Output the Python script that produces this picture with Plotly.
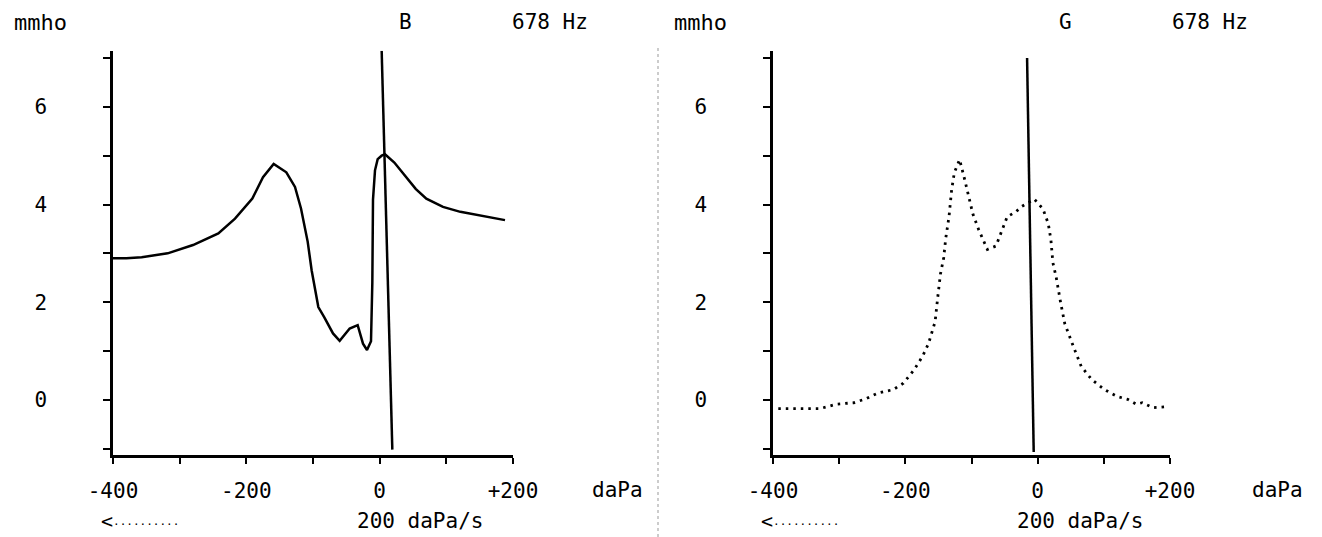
import plotly.graph_objects as go

# ---- data ----
# Left panel: susceptance B at 678 Hz (mmho) vs pressure (daPa)
B_pressure = [-400, -380, -357, -318, -280, -242, -217, -191, -175, -159, -140, -127,
              -118, -113, -108, -102, -92, -83, -70, -60, -45, -33, -25, -19, -13,
              -11, -10, -7, -3, 3, 8, 22, 38, 54, 70, 95, 121, 153, 188]
B_mmho = [2.90, 2.90, 2.92, 3.00, 3.17, 3.41, 3.71, 4.12, 4.56, 4.83, 4.66, 4.36,
          3.92, 3.60, 3.24, 2.65, 1.90, 1.69, 1.36, 1.21, 1.46, 1.53, 1.15, 1.02, 1.20,
          2.40, 4.10, 4.70, 4.93, 5.00, 5.03, 4.86, 4.59, 4.32, 4.12, 3.95, 3.85, 3.77, 3.68]
B_marker_pressure = [3, 19]
B_marker_mmho = [7.15, -1.02]

# Right panel: conductance G at 678 Hz (mmho) vs pressure (daPa)
G_pressure = [-392, -329, -304, -278, -260, -241, -218, -203, -187, -174, -165, -155,
              -151, -147, -142, -139, -134, -130, -126, -118, -111, -104, -98, -89, -76,
              -63, -54, -46, -33, -24, -5, 8, 16, 20, 23, 28, 35, 41, 54, 66, 82, 101,
              120, 136, 149, 158, 174, 196]
G_mmho = [-0.18, -0.18, -0.09, -0.06, 0.02, 0.14, 0.21, 0.34, 0.61, 0.89, 1.15, 1.60,
          2.10, 2.57, 2.91, 3.30, 3.75, 4.30, 4.65, 4.92, 4.55, 4.15, 3.81, 3.48, 3.08,
          3.15, 3.48, 3.75, 3.85, 3.96, 4.11, 3.91, 3.61, 3.28, 2.81, 2.51, 1.97, 1.56,
          1.09, 0.68, 0.41, 0.21, 0.07, 0.01, -0.09, -0.06, -0.16, -0.14]
G_marker_pressure = [-16, -6]
G_marker_mmho = [7.0, -1.07]

x_tickvals = [-400, -300, -200, -100, 0, 100, 200]
x_ticktext = ["-400", "", "-200", "", "0", "", "+200"]
y_tickvals = [-1, 0, 1, 2, 3, 4, 5, 6, 7]
y_ticktext = ["", "0", "", "2", "", "4", "", "6", ""]

FONT = "DejaVu Sans Mono"
FS = 21
OFF = 8                      # default page (body) margin of the html page
W, H = 1322 - OFF, 537 - OFF  # figure size so the page fits the window


def fx(p):  # page pixel x -> paper x
    return (p - OFF) / W


def fy(p):  # page pixel y -> paper y
    return 1 - (p - OFF) / H


fig = go.Figure()

fig.add_trace(go.Scatter(x=B_pressure, y=B_mmho, mode="lines",
                         line=dict(color="black", width=2.5), xaxis="x", yaxis="y",
                         showlegend=False, hoverinfo="skip"))
fig.add_trace(go.Scatter(x=B_marker_pressure, y=B_marker_mmho, mode="lines",
                         line=dict(color="black", width=2.5), xaxis="x", yaxis="y",
                         showlegend=False, hoverinfo="skip"))
fig.add_trace(go.Scatter(x=G_pressure, y=G_mmho, mode="lines",
                         line=dict(color="black", width=2.8, dash="2.5px,5px"),
                         xaxis="x2", yaxis="y2", showlegend=False, hoverinfo="skip"))
fig.add_trace(go.Scatter(x=G_marker_pressure, y=G_marker_mmho, mode="lines",
                         line=dict(color="black", width=2.5), xaxis="x2", yaxis="y2",
                         showlegend=False, hoverinfo="skip"))

ydom = [fy(455), fy(50.7)]
xcommon = dict(range=[-400, 200], tickmode="array", tickvals=x_tickvals,
               ticktext=x_ticktext, ticks="outside", ticklen=6, tickwidth=2,
               tickcolor="black", showline=True, linecolor="black", linewidth=2.5,
               showgrid=False, zeroline=False, ticklabelstandoff=9, automargin=False,
               tickfont=dict(family=FONT, size=FS, color="black"))
ycommon = dict(range=[-1.13, 7.15], tickmode="array", tickvals=y_tickvals,
               ticktext=y_ticktext, ticks="outside", ticklen=7, tickwidth=2,
               tickcolor="black", showline=True, linecolor="black", linewidth=2.5,
               showgrid=False, zeroline=False, ticklabelstandoff=52, automargin=False,
               tickfont=dict(family=FONT, size=FS, color="black"), domain=ydom)

fig.update_layout(
    width=W, height=H,
    margin=dict(l=0, r=0, t=0, b=0, autoexpand=False),
    paper_bgcolor="white", plot_bgcolor="white",
    xaxis=dict(domain=[fx(113), fx(513)], anchor="y", **xcommon),
    yaxis=dict(anchor="x", **ycommon),
    xaxis2=dict(domain=[fx(773), fx(1170)], anchor="y2", **xcommon),
    yaxis2=dict(anchor="x2", **ycommon),
)


def ann(text, px, py, anchor="center", size=FS):
    fig.add_annotation(text=text, x=fx(px), y=fy(py), xref="paper", yref="paper",
                       xanchor=anchor, yanchor="middle", showarrow=False,
                       font=dict(family=FONT, size=size, color="black"))


arrow = "<span style='font-size:20px'>&lt;</span><span style='font-size:11px'>··········</span>"
for off, name in [(0, "B"), (660, "G")]:
    ann("mmho", 12 + off, 22, anchor="left", size=22)
    ann(name, 405 + off, 22)
    ann("678 Hz", 550 + off, 22)
    ann("daPa", 617 + off, 490)
    ann("200 daPa/s", 420 + off, 521)
    ann(arrow, 140 + off, 521)

fig.add_shape(type="line", xref="paper", yref="paper", x0=fx(658), x1=fx(658),
              y0=0.0, y1=fy(45), line=dict(color="#999999", width=1, dash="dot"))

fig.write_html("out.html")
